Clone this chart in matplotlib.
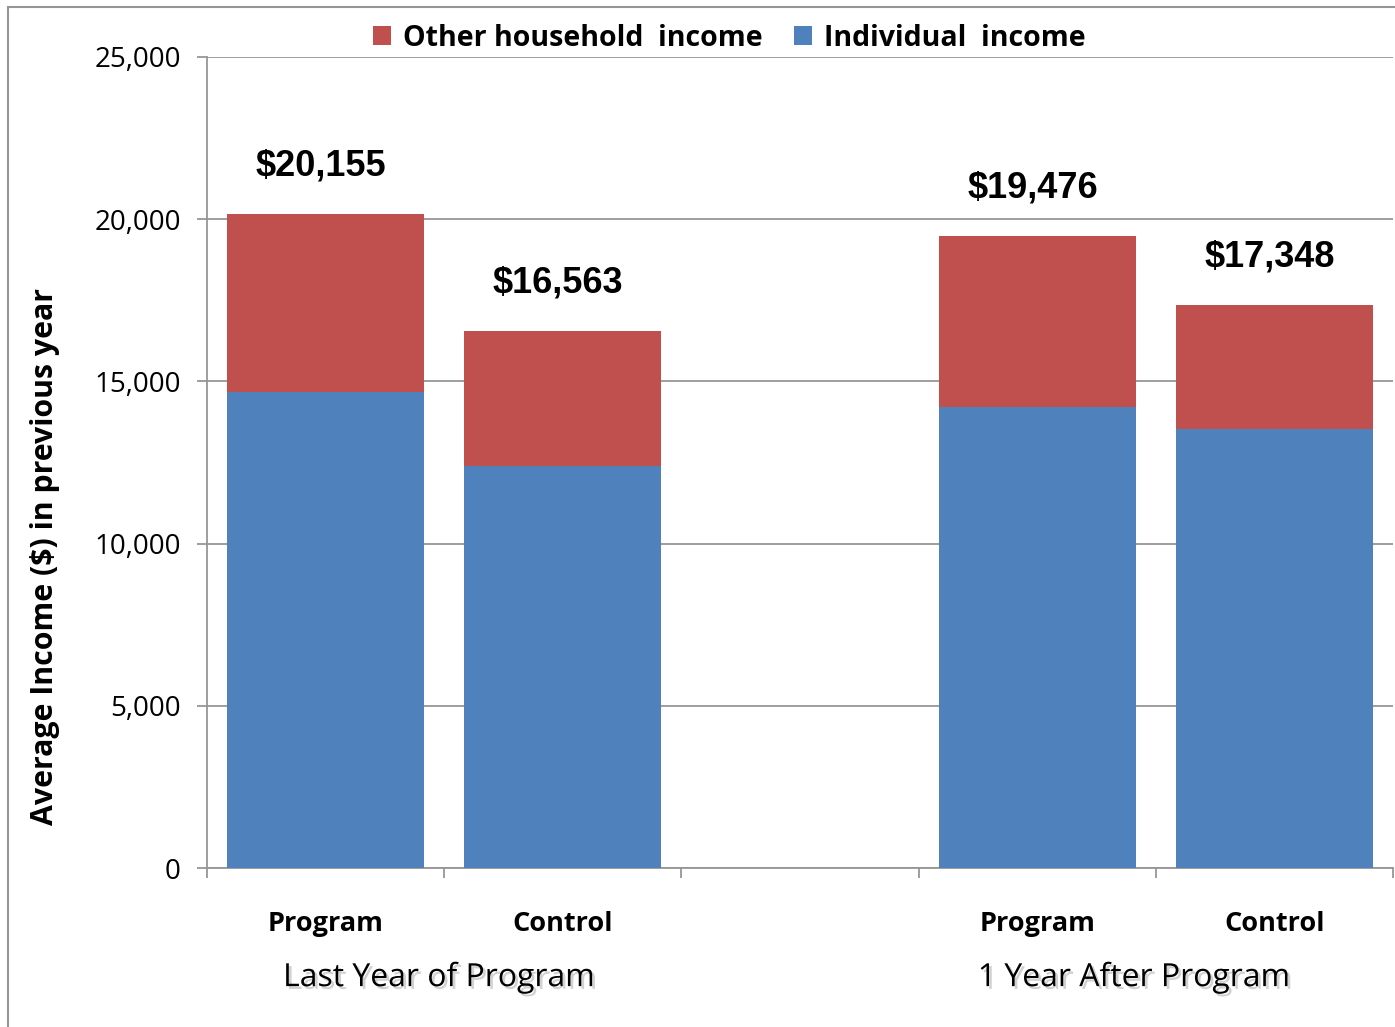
import matplotlib.pyplot as plt
import matplotlib.patheffects as pe
from matplotlib.patches import Rectangle
from matplotlib.ticker import FuncFormatter, FixedLocator
import numpy as np

# Data
groups = ['Last Year of Program', '1 Year After Program']
bar_labels = ['Program', 'Control', 'Program', 'Control']
bar_pos = [0, 1, 3, 4]
totals = [20155, 16563, 19476, 17348]
individual = [14670, 12380, 14200, 13520]
other = [t - i for t, i in zip(totals, individual)]

RED = '#C0504D'
BLUE = '#4F81BD'
GRID = '#969696'

plt.rcParams['font.family'] = ['Open Sans', 'DejaVu Sans']

fig = plt.figure(figsize=(13.95, 10.27), dpi=100)
ax = fig.add_axes([0.1484, 0.1548, 0.8502, 0.7897])

width = 0.83
b_ind = ax.bar(bar_pos, individual, width, color=BLUE, label='Individual  income', zorder=3)
b_oth = ax.bar(bar_pos, other, width, bottom=individual, color=RED,
               label='Other household  income', zorder=3)

# Total labels above each stack
for x, t in zip(bar_pos, totals):
    ax.text(x - 0.02, t + 1480, f'${t:,}', ha='center', va='center',
            fontsize=26, fontweight='bold', family='Liberation Sans')

ax.set_xlim(-0.5, 4.5)
ax.set_ylim(0, 25000)
ax.set_yticks(np.arange(0, 25001, 5000))
ax.yaxis.set_major_formatter(FuncFormatter(lambda v, p: f'{int(v):,}'))
ax.grid(axis='y', color=GRID, linewidth=1.3, zorder=0)

# Boundary ticks between categories, labels at bar centres
ax.xaxis.set_major_locator(FixedLocator(np.arange(-0.5, 4.6, 1.0)))
ax.xaxis.set_major_formatter(FuncFormatter(lambda v, p: ''))
ax.set_xticks(bar_pos, minor=True)
ax.set_xticklabels(bar_labels, minor=True, fontsize=19.5, fontweight='bold')
ax.tick_params(axis='x', which='minor', length=0, pad=31)
ax.tick_params(axis='x', which='major', length=7, width=1.3, color=GRID)
ax.tick_params(axis='y', length=7, width=1.3, color=GRID, pad=12, labelsize=20)

for s in ['top', 'right']:
    ax.spines[s].set_visible(False)
for s in ['left', 'bottom']:
    ax.spines[s].set_color(GRID)
    ax.spines[s].set_linewidth(1.3)

# Group captions with a soft drop shadow
shadow = [pe.withSimplePatchShadow(offset=(2, -2), shadow_rgbFace='#808080', alpha=0.35)]
for gx, g in zip([0.48, 3.41], groups):
    ax.text(gx, -0.135, g, transform=ax.get_xaxis_transform(), ha='center', va='center',
            fontsize=23, path_effects=shadow)

fig.text(0.032, 0.4577, 'Average Income ($) in previous year', rotation=90,
         ha='center', va='center', fontsize=21.8, fontweight='bold')

handles = [b_oth, b_ind]
fig.legend(handles, [h.get_label() for h in handles], loc='center',
           bbox_to_anchor=(729 / 1395, 1 - 38 / 1027), ncol=2, frameon=False,
           prop={'weight': 'bold', 'size': 20.5}, handlelength=0.65, handleheight=0.65,
           handletextpad=0.4, columnspacing=1.1)

# Outer chart frame
fig.patches.append(Rectangle((8 / 1395, -0.02), 1.1, 1 - 7 / 1027 + 0.02,
                             transform=fig.transFigure, fill=False,
                             edgecolor=GRID, linewidth=1.5))

plt.savefig('out.png', dpi=100)
plt.close()
